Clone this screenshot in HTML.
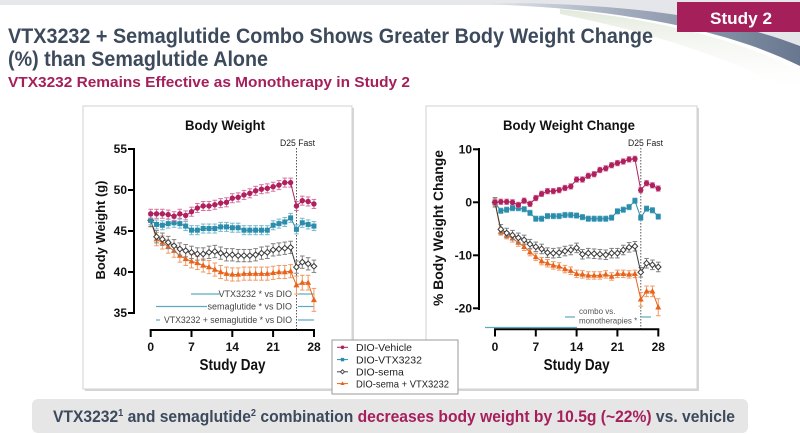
<!DOCTYPE html>
<html><head><meta charset="utf-8"><style>
html,body{margin:0;padding:0;background:#fff;}
#wrap{width:800px;height:434px;overflow:hidden;position:relative;}
svg{display:block;font-family:"Liberation Sans",Arial,sans-serif;}
</style></head><body><div id="wrap">
<svg id="s" width="800" height="434" viewBox="0 0 800 434" xmlns="http://www.w3.org/2000/svg">
<defs>
<linearGradient id="sw" x1="0" y1="0" x2="1" y2="0"><stop offset="0" stop-color="#eceef1"/><stop offset="0.45" stop-color="#a3adbe"/><stop offset="1" stop-color="#68778f"/></linearGradient>
<linearGradient id="sh" x1="0" y1="0" x2="0" y2="1"><stop offset="0" stop-color="#e3e9dc"/><stop offset="1" stop-color="#ffffff" stop-opacity="0"/></linearGradient>
</defs>
<!-- header background -->
<rect x="0" y="0" width="800" height="5" fill="#e7e8ea"/>
<path d="M520 3 C620 5,720 16,800 46 V0 H520 Z" fill="#e4e6ea"/>
<path d="M560 9 C680 22,760 48,800 72 V96 C760 72,680 38,560 14 Z" fill="url(#sh)"/>
<path d="M470 4 C600 6,720 26,800 66 L800 46 C720 15,620 5,520 3 Z" fill="url(#sw)"/>
<rect x="677" y="2" width="123" height="30" fill="#a51f5b"/>
<text x="741" y="24" font-size="17" font-weight="bold" fill="#fff" text-anchor="middle" textLength="62" lengthAdjust="spacingAndGlyphs">Study 2</text>
<text x="8" y="43" font-size="21" font-weight="bold" fill="#3d4a5c" textLength="645" lengthAdjust="spacingAndGlyphs">VTX3232 + Semaglutide Combo Shows Greater Body Weight Change</text>
<text x="8" y="66" font-size="21" font-weight="bold" fill="#3d4a5c" textLength="260" lengthAdjust="spacingAndGlyphs">(%) than Semaglutide Alone</text>
<text x="8" y="87" font-size="15" font-weight="bold" fill="#a51f5b" textLength="402" lengthAdjust="spacingAndGlyphs">VTX3232 Remains Effective as Monotherapy in Study 2</text>

<!-- panels -->
<rect x="85" y="108" width="269" height="283" fill="#d6d6d6"/>
<rect x="83" y="106" width="269" height="283" fill="#fff" stroke="#d2d2d2" stroke-width="1"/>
<rect x="428" y="108" width="271" height="283" fill="#d6d6d6"/>
<rect x="426" y="106" width="271" height="283" fill="#fff" stroke="#d2d2d2" stroke-width="1"/>

<!-- Left chart static -->
<text x="225" y="130" font-size="14" font-weight="bold" fill="#111" text-anchor="middle" textLength="80" lengthAdjust="spacingAndGlyphs">Body Weight</text>
<text x="280" y="146" font-size="9" fill="#222" textLength="35" lengthAdjust="spacingAndGlyphs">D25 Fast</text>
<line x1="296.5" y1="148" x2="296.5" y2="330" stroke="#555" stroke-width="1" stroke-dasharray="1.5,1.5"/>
<g stroke="#000" stroke-width="2" fill="none">
<line x1="134" y1="148" x2="134" y2="314"/>
<line x1="128" y1="149" x2="134" y2="149"/><line x1="128" y1="190" x2="134" y2="190"/><line x1="128" y1="231" x2="134" y2="231"/><line x1="128" y1="272" x2="134" y2="272"/><line x1="128" y1="313" x2="134" y2="313"/>
<line x1="149.7" y1="330" x2="315" y2="330"/>
<line x1="150.7" y1="330" x2="150.7" y2="337"/><line x1="191.5" y1="330" x2="191.5" y2="337"/><line x1="232.3" y1="330" x2="232.3" y2="337"/><line x1="273.1" y1="330" x2="273.1" y2="337"/><line x1="314" y1="330" x2="314" y2="337"/>
</g>
<g font-size="12" font-weight="bold" fill="#111" text-anchor="end">
<text x="127" y="153">55</text><text x="127" y="194">50</text><text x="127" y="235">45</text><text x="127" y="276">40</text><text x="127" y="317">35</text>
</g>
<g font-size="12" font-weight="bold" fill="#111" text-anchor="middle">
<text x="150.7" y="351">0</text><text x="191.5" y="351">7</text><text x="232.3" y="351">14</text><text x="273.1" y="351">21</text><text x="314" y="351">28</text>
</g>
<text x="232.5" y="370" font-size="16" font-weight="bold" fill="#111" text-anchor="middle" textLength="66" lengthAdjust="spacingAndGlyphs">Study Day</text>
<text transform="translate(105,230) rotate(-90)" font-size="13" font-weight="bold" fill="#111" text-anchor="middle" textLength="99" lengthAdjust="spacingAndGlyphs">Body Weight (g)</text>
<g stroke="#5aaac0" stroke-width="1.2">
<line x1="191" y1="294" x2="220" y2="294"/><line x1="298" y1="294" x2="314" y2="294"/>
<line x1="156" y1="306.5" x2="207" y2="306.5"/><line x1="298" y1="306.5" x2="314" y2="306.5"/>
<line x1="156" y1="320" x2="160" y2="320"/><line x1="298" y1="320" x2="314" y2="320"/>
</g>
<g font-size="9" fill="#444" text-anchor="end">
<text x="292" y="297">VTX3232 * vs DIO</text>
<text x="292" y="309.5">semaglutide * vs DIO</text>
<text x="292" y="323" textLength="128" lengthAdjust="spacingAndGlyphs">VTX3232 + semaglutide * vs DIO</text>
</g>

<!-- Right chart static -->
<text x="569" y="130" font-size="14" font-weight="bold" fill="#111" text-anchor="middle" textLength="132" lengthAdjust="spacingAndGlyphs">Body Weight Change</text>
<text x="628" y="146" font-size="9" fill="#222" textLength="35" lengthAdjust="spacingAndGlyphs">D25 Fast</text>
<line x1="640.8" y1="148" x2="640.8" y2="329" stroke="#555" stroke-width="1" stroke-dasharray="1.5,1.5"/>
<g stroke="#000" stroke-width="2" fill="none">
<line x1="479" y1="148" x2="479" y2="310"/>
<line x1="473" y1="149.3" x2="479" y2="149.3"/><line x1="473" y1="202.3" x2="479" y2="202.3"/><line x1="473" y1="255.3" x2="479" y2="255.3"/><line x1="473" y1="308.3" x2="479" y2="308.3"/>
<line x1="494" y1="329.3" x2="659.3" y2="329.3"/>
<line x1="495" y1="329.3" x2="495" y2="336.5"/><line x1="535.8" y1="329.3" x2="535.8" y2="336.5"/><line x1="576.6" y1="329.3" x2="576.6" y2="336.5"/><line x1="617.4" y1="329.3" x2="617.4" y2="336.5"/><line x1="658.3" y1="329.3" x2="658.3" y2="336.5"/>
</g>
<g font-size="12" font-weight="bold" fill="#111" text-anchor="end">
<text x="472" y="153.3">10</text><text x="472" y="206.3">0</text><text x="472" y="259.3">-10</text><text x="472" y="312.3">-20</text>
</g>
<g font-size="12" font-weight="bold" fill="#111" text-anchor="middle">
<text x="495" y="351">0</text><text x="535.8" y="351">7</text><text x="576.6" y="351">14</text><text x="617.4" y="351">21</text><text x="658.3" y="351">28</text>
</g>
<text x="576.6" y="370" font-size="16" font-weight="bold" fill="#111" text-anchor="middle" textLength="66" lengthAdjust="spacingAndGlyphs">Study Day</text>
<text transform="translate(443,228) rotate(-90)" font-size="14" font-weight="bold" fill="#111" text-anchor="middle" textLength="156" lengthAdjust="spacingAndGlyphs">% Body Weight Change</text>
<g stroke="#5aaac0" stroke-width="1.2">
<line x1="565" y1="317" x2="575" y2="317"/><line x1="641" y1="317" x2="651" y2="317"/>
<line x1="485" y1="327.5" x2="577" y2="327.5"/>
</g>
<g font-size="8" fill="#555">
<text x="579" y="314">combo vs.</text>
<text x="579" y="323.5">monotherapies *</text>
</g>

<g id="data"></g>

<!-- legend -->
<rect x="332" y="340" width="126" height="54" fill="#fff" stroke="#9a9a9a" stroke-width="1"/>
<g stroke-width="1">
<line x1="337" y1="347.3" x2="348" y2="347.3" stroke="#b0205f"/><circle cx="342.5" cy="347.3" r="1.8" fill="#b0205f"/>
<line x1="337" y1="359.6" x2="348" y2="359.6" stroke="#2b8cab"/><rect x="340.8" y="357.9" width="3.4" height="3.4" fill="#2b8cab"/>
<line x1="337" y1="371.8" x2="348" y2="371.8" stroke="#444"/><polygon points="342.5,369.8 344.5,371.8 342.5,373.8 340.5,371.8" fill="#fff" stroke="#444"/>
<line x1="337" y1="383.6" x2="348" y2="383.6" stroke="#e8641c"/><polygon points="342.5,381.4 344.6,385 340.4,385" fill="#e8641c"/>
</g>
<g font-size="10.5" fill="#222">
<text x="356" y="351">DIO-Vehicle</text>
<text x="356" y="363.3">DIO-VTX3232</text>
<text x="356" y="375.5">DIO-sema</text>
<text x="356" y="387.3" textLength="93" lengthAdjust="spacingAndGlyphs">DIO-sema + VTX3232</text>
</g>

<!-- bottom bar -->
<rect x="32" y="399" width="716" height="34" rx="6" fill="#e6e6e7"/>
<text x="53" y="422" font-size="17" font-weight="bold" fill="#3d4a5c" textLength="682" lengthAdjust="spacingAndGlyphs">VTX3232<tspan font-size="10" dy="-6">1</tspan><tspan dy="6"> and semaglutide</tspan><tspan font-size="10" dy="-6">2</tspan><tspan dy="6"> combination </tspan><tspan fill="#a51f5b">decreases body weight by 10.5g (~22%)</tspan><tspan> vs. vehicle</tspan></text>
</svg>
</div>
<script>
(function(){
var NS="http://www.w3.org/2000/svg";
var g=document.getElementById("data");
function el(n,a){var e=document.createElementNS(NS,n);for(var k in a)e.setAttribute(k,a[k]);g.appendChild(e);return e;}
var C={veh:["#b0205f","#d4739c"],blue:["#2b8cab","#74b9cf"],blk:["#3a3a3a","#808080"],org:["#e8641c","#f09a62"]};
function draw(xf,yf,vals,errs,col,mk){
  var pts=vals.map(function(v,i){return [xf(i),yf(v)];});
  vals.forEach(function(v,i){
    var e=errs[i],x=xf(i),y1=yf(v+e),y2=yf(v-e);
    el("line",{x1:x,y1:y1,x2:x,y2:y2,stroke:col[1],"stroke-width":1});
    el("line",{x1:x-2.3,y1:y1,x2:x+2.3,y2:y1,stroke:col[1],"stroke-width":1});
    el("line",{x1:x-2.3,y1:y2,x2:x+2.3,y2:y2,stroke:col[1],"stroke-width":1});
  });
  el("polyline",{points:pts.map(function(p){return p[0].toFixed(1)+","+p[1].toFixed(1);}).join(" "),fill:"none",stroke:col[0],"stroke-width":1});
  pts.forEach(function(p){
    var x=p[0],y=p[1];
    if(mk=="c")el("circle",{cx:x,cy:y,r:2.7,fill:col[0]});
    else if(mk=="s")el("rect",{x:x-2.5,y:y-2.5,width:5,height:5,fill:col[0]});
    else if(mk=="d")el("polygon",{points:x+","+(y-2.8)+" "+(x+2.8)+","+y+" "+x+","+(y+2.8)+" "+(x-2.8)+","+y,fill:"#fff",stroke:col[0],"stroke-width":1});
    else el("polygon",{points:x+","+(y-3.2)+" "+(x+3)+","+(y+2.2)+" "+(x-3)+","+(y+2.2),fill:col[0]});
  });
}
function rep(n,v){var a=[];for(var i=0;i<n;i++)a.push(v);return a;}
var xL=function(d){return 150.7+d*5.83;}, yL=function(v){return 149+(55-v)*8.2;};
var Lveh=[47.1,47.1,47.1,47.0,46.8,47.1,46.9,47.35,47.8,48.05,48.05,48.2,48.4,48.5,49.0,49.1,49.4,49.6,49.9,50.1,50.2,50.4,50.6,50.9,50.9,48.05,48.7,48.6,48.3];
var Lblu=[46.3,45.8,45.7,45.9,46.0,45.9,45.6,45.1,45.1,45.3,45.3,45.3,45.5,45.5,45.4,45.4,45.1,45.1,45.1,45.1,45.1,45.7,45.9,46.1,46.6,45.2,46.0,45.8,45.6];
var Lblk=[46.3,44.3,44.0,43.6,43.2,42.8,42.6,42.4,42.2,42.2,42.4,42.5,42.3,42.1,42.1,42.0,42.0,42.0,42.1,42.3,42.4,42.7,42.8,42.9,43.0,40.6,41.2,41.0,40.7];
var Lorg=[46.3,44.0,43.6,43.1,42.6,42.0,41.6,41.3,41.1,40.8,40.6,40.3,40.0,39.8,39.7,39.7,39.8,39.8,39.8,39.8,39.8,39.9,40.0,40.0,40.1,38.4,38.7,38.7,36.6];
var eO=rep(29,0.8);eO[25]=1.1;eO[26]=0.9;eO[27]=0.9;eO[28]=1.4;
draw(xL,yL,Lorg,eO,C.org,"t");
draw(xL,yL,Lblk,rep(29,0.75),C.blk,"d");
draw(xL,yL,Lblu,rep(29,0.55),C.blue,"s");
draw(xL,yL,Lveh,rep(29,0.55),C.veh,"c");
var xR=function(d){return 495+d*5.83;}, yR=function(v){return 202.3-v*5.3;};
var Rveh=[0,0.1,0.1,0,-0.5,0.3,-0.3,0.8,1.6,2.1,2.1,2.3,2.7,3.0,4.3,4.3,5.0,5.3,6.1,6.4,7.0,7.4,7.7,8.1,8.2,2.3,3.6,3.2,2.6];
var Rblu=[0,-1.6,-1.4,-1.1,-1.1,-1.3,-2.0,-3.1,-3.1,-2.6,-2.6,-2.6,-2.4,-2.4,-2.5,-2.8,-3.1,-3.1,-3.1,-3.1,-2.9,-1.7,-1.4,-0.9,0.3,-2.9,-1.2,-1.5,-2.7];
var Rblk=[0,-5.1,-5.8,-6.2,-6.7,-7.1,-7.9,-8.4,-8.8,-9.5,-9.6,-9.5,-9.2,-9.0,-8.6,-9.8,-9.6,-9.7,-9.8,-9.9,-9.6,-9.6,-9.0,-8.5,-8.3,-13.2,-11.5,-11.8,-12.2];
var Rorg=[0,-5.5,-6.2,-6.8,-7.6,-8.4,-9.4,-10.3,-11.1,-11.5,-11.9,-12.1,-12.6,-12.9,-13.5,-13.6,-13.8,-13.8,-13.8,-13.6,-14.0,-13.5,-13.5,-13.6,-13.5,-18.3,-16.8,-16.8,-19.8];
var eRo=rep(29,0.7);eRo[25]=1.3;eRo[26]=1.0;eRo[27]=1.0;eRo[28]=1.6;
var eRk=rep(29,0.9);
draw(xR,yR,Rorg,eRo,C.org,"t");
draw(xR,yR,Rblk,eRk,C.blk,"d");
draw(xR,yR,Rblu,rep(29,0.5),C.blue,"s");
draw(xR,yR,Rveh,rep(29,0.5),C.veh,"c");
})();
</script>
</body></html>
